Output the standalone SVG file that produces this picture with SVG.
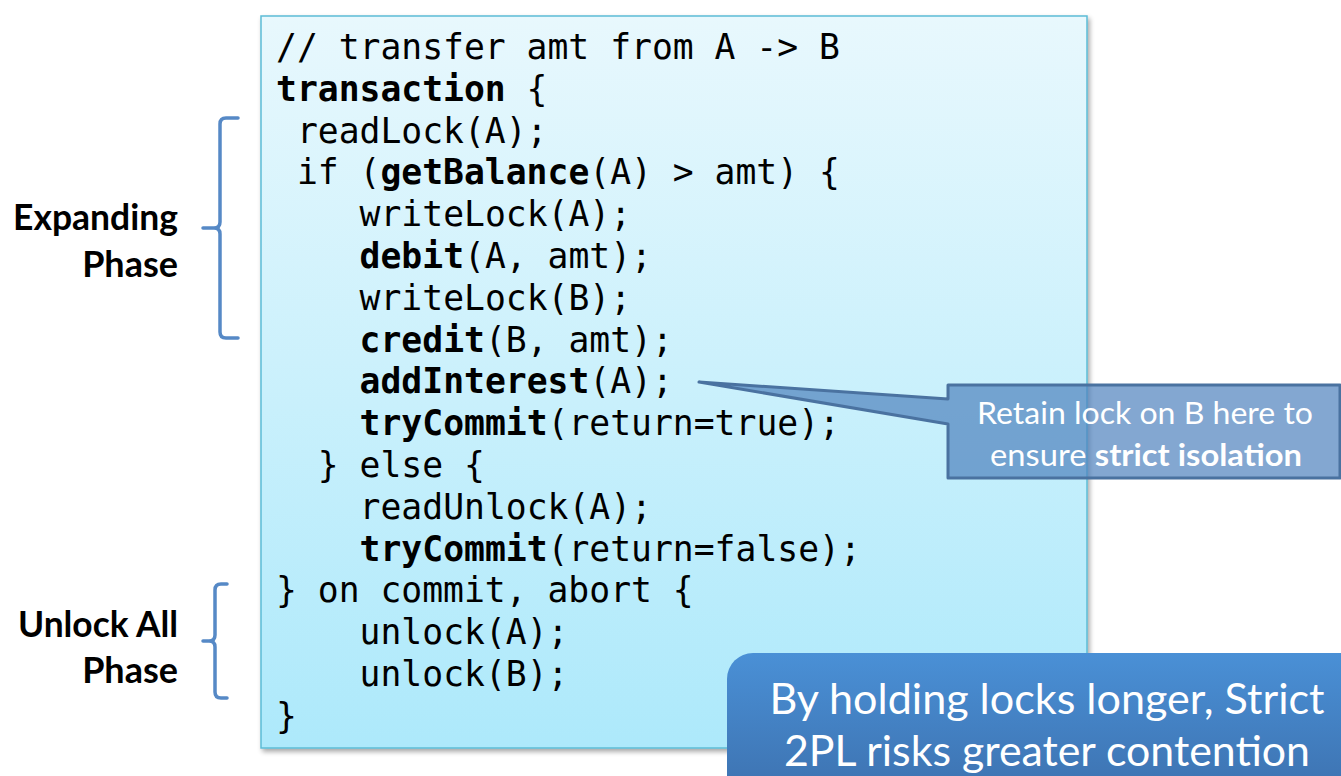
<svg xmlns="http://www.w3.org/2000/svg" width="1341" height="776" viewBox="0 0 1341 776">
<defs>
<linearGradient id="codeGrad" x1="0" y1="0" x2="0" y2="1">
<stop offset="0" stop-color="#e8f8fd"/>
<stop offset="1" stop-color="#ade9fb"/>
</linearGradient>
<linearGradient id="noteGrad" x1="0" y1="0" x2="0" y2="1">
<stop offset="0" stop-color="#4a90d6"/>
<stop offset="1" stop-color="#3b6eab"/>
</linearGradient>
<filter id="shadow" x="-5%" y="-5%" width="110%" height="110%">
<feGaussianBlur in="SourceAlpha" stdDeviation="2.5"/>
<feOffset dx="2" dy="3" result="b"/>
<feComponentTransfer><feFuncA type="linear" slope="0.35"/></feComponentTransfer>
<feMerge><feMergeNode/><feMergeNode in="SourceGraphic"/></feMerge>
</filter>
</defs>
<style>
.code{font-family:"DejaVu Sans Mono","Liberation Mono",monospace;font-size:34.7px;fill:#000}
.b{font-weight:bold}
.lbl{font-family:Lato,"Liberation Sans",sans-serif;font-size:36px;font-weight:bold;fill:#000;text-anchor:end}
.brace{fill:none;stroke:#5689c6;stroke-width:3.5;stroke-linecap:round;stroke-linejoin:round}
.callT{font-family:Lato,"Liberation Sans",sans-serif;font-size:30px;fill:#fff;text-anchor:middle}
.noteT{font-family:Lato,"Liberation Sans",sans-serif;font-size:42px;fill:#fff;text-anchor:middle}
</style>
<rect width="1341" height="776" fill="#fff"/>

<g id="code-box">
<rect x="261" y="16" width="826" height="732" fill="url(#codeGrad)" stroke="#5cbcd6" stroke-width="1.5" filter="url(#shadow)"/>
<text class="code" x="276" y="59">// transfer amt from A -&gt; B</text>
<text class="code" x="276" y="100.8"><tspan class="b">transaction</tspan> {</text>
<text class="code" x="296.9" y="142.6">readLock(A);</text>
<text class="code" x="296.9" y="184.4">if (<tspan class="b">getBalance</tspan>(A) &gt; amt) {</text>
<text class="code" x="359.6" y="226.2">writeLock(A);</text>
<text class="code" x="359.6" y="268"><tspan class="b">debit</tspan>(A, amt);</text>
<text class="code" x="359.6" y="309.8">writeLock(B);</text>
<text class="code" x="359.6" y="351.6"><tspan class="b">credit</tspan>(B, amt);</text>
<text class="code" x="359.6" y="393.4"><tspan class="b">addInterest</tspan>(A);</text>
<text class="code" x="359.6" y="435.2"><tspan class="b">tryCommit</tspan>(return=true);</text>
<text class="code" x="317.8" y="477">} else {</text>
<text class="code" x="359.6" y="518.8">readUnlock(A);</text>
<text class="code" x="359.6" y="560.6"><tspan class="b">tryCommit</tspan>(return=false);</text>
<text class="code" x="276" y="602.4">} on commit, abort {</text>
<text class="code" x="359.6" y="644.2">unlock(A);</text>
<text class="code" x="359.6" y="686">unlock(B);</text>
<text class="code" x="276" y="727.8">}</text>
</g>

<g id="expanding-phase">
<path class="brace" d="M238,118 H226 Q220,118 220,124 V222 Q220,228 214,228 H203 M214,228 Q220,228 220,234 V332 Q220,338 226,338 H238"/>
<text class="lbl" x="178" y="230" textLength="165" lengthAdjust="spacingAndGlyphs">Expanding</text>
<text class="lbl" x="178" y="277">Phase</text>
</g>

<g id="unlock-phase">
<path class="brace" d="M227,584 H221 Q215,584 215,590 V635 Q215,641 209,641 H203 M209,641 Q215,641 215,647 V692 Q215,698 221,698 H227"/>
<text class="lbl" x="178" y="637" textLength="160" lengthAdjust="spacingAndGlyphs">Unlock All</text>
<text class="lbl" x="178" y="683">Phase</text>
</g>

<g id="connectors">
<path d="M948,385 H1340 V478 H948 V424 L699,382 L948,399 Z" fill="#4f81bd" fill-opacity="0.7" stroke="#4a72a0" stroke-width="3" stroke-linejoin="round"/>
</g>

<g id="callout">
<text class="callT" x="1145" y="424" textLength="336" lengthAdjust="spacingAndGlyphs">Retain lock on B here to</text>
<text class="callT" x="1146" y="466" textLength="312" lengthAdjust="spacingAndGlyphs">ensure <tspan font-weight="bold">strict isolation</tspan></text>
</g>

<g id="note">
<rect x="727" y="653" width="660" height="160" rx="26" ry="26" fill="url(#noteGrad)"/>
<text class="noteT" x="1047" y="714" textLength="555" lengthAdjust="spacingAndGlyphs">By holding locks longer, Strict</text>
<text class="noteT" x="1047" y="766" textLength="526" lengthAdjust="spacingAndGlyphs">2PL risks greater contention</text>
</g>
</svg>
